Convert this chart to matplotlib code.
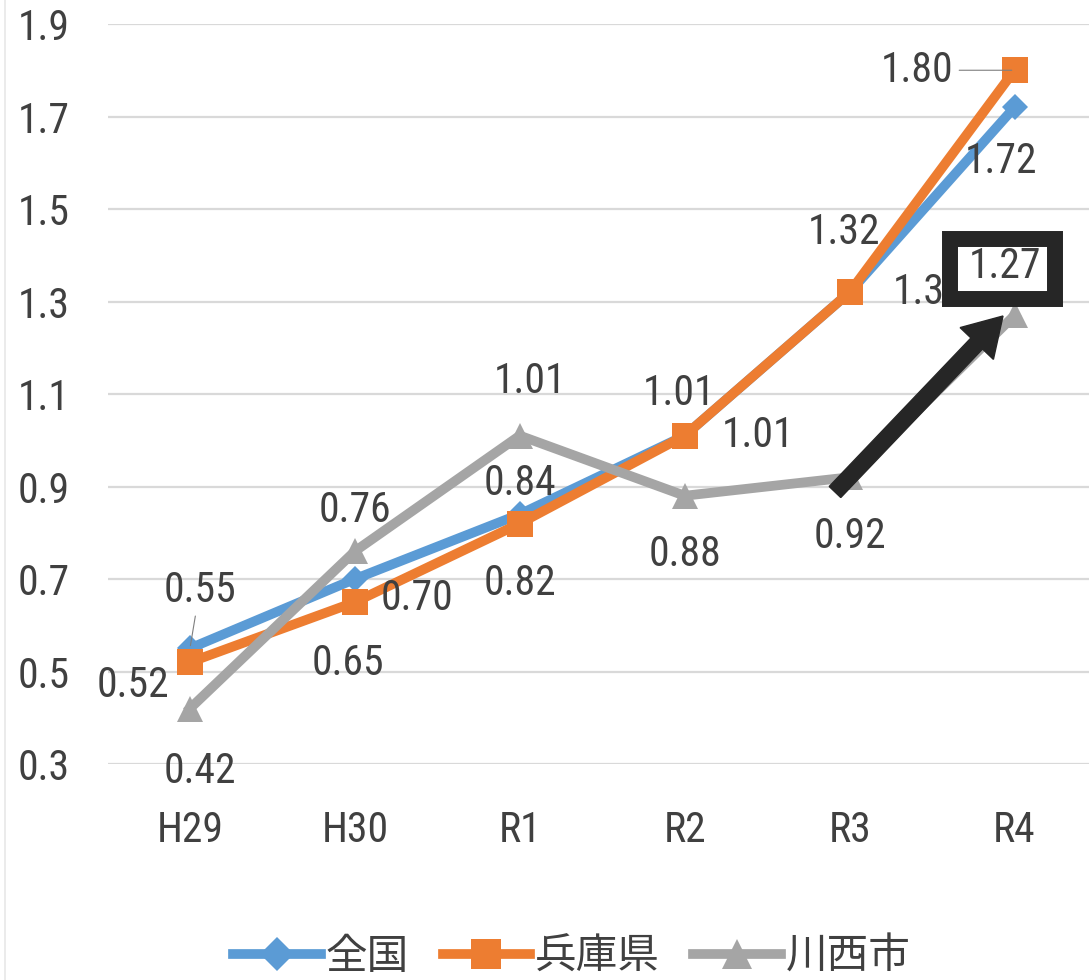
import matplotlib
matplotlib.use("Agg")
import matplotlib.pyplot as plt
from matplotlib.lines import Line2D
from matplotlib.patches import Rectangle, FancyArrow
from matplotlib.transforms import IdentityTransform
from matplotlib import font_manager
import numpy as np

# ---- data ----
categories = ["H29", "H30", "R1", "R2", "R3", "R4"]
series_names = ["全国", "兵庫県", "川西市"]
zenkoku = [0.55, 0.70, 0.84, 1.01, 1.32, 1.72]
hyogo = [0.52, 0.65, 0.82, 1.01, 1.32, 1.80]
kawanishi = [0.42, 0.76, 1.01, 0.88, 0.92, 1.27]
y_ticks = [0.3, 0.5, 0.7, 0.9, 1.1, 1.3, 1.5, 1.7, 1.9]

# ---- style ----
colors = ["#5B9BD5", "#ED7D31", "#A5A5A5"]
markers = ["D", "s", "^"]
marker_sizes = [13, 19, 19]
legend_marker_sizes = [17, 22, 21]
text_color = "#404040"

# pick a narrow face for the numbers when one is installed
installed = {f.name for f in font_manager.fontManager.ttflist}
narrow_candidates = ["Liberation Sans Narrow", "DejaVu Sans Condensed",
                     "Roboto Condensed", "Open Sans Condensed", "Roboto"]
num_face = next((n for n in narrow_candidates if n in installed), "DejaVu Sans")
num_font = [num_face, "DejaVu Sans"]
num_stretch = "condensed"
jp_font = ["Noto Sans CJK JP", "DejaVu Sans"]
num_size = 30

# data-label offsets (points) for each series / category
label_offsets = [
    [(7, 42), (45, -14), (0, 22), (53, 0), (57, 0), (-10, -39)],
    [(-41, -17), (-5, -44), (0, -43), (-4, 30), (-4, 43), (-70, 0)],
    [(7, -45), (0, 29), (7, 39), (0, -42), (0, -43), (-7, 35)],
]
leader = [
    [True, False, False, False, False, False],
    [False, False, False, False, False, True],
    [False, False, False, False, False, False],
]

W, H = 1089, 980
fig = plt.figure(figsize=(W / 100, H / 100), dpi=100)
fig.patch.set_facecolor("white")
ax = fig.add_axes([107.5 / W, 216 / H, 989.5 / W, 740 / H])
ax.set_facecolor("none")

x = np.arange(len(categories))
ax.set_xlim(-0.5, len(categories) - 0.5)
ax.set_ylim(0.3, 1.9)

ax.set_yticks(y_ticks)
ax.set_yticklabels([f"{v:.1f}" for v in y_ticks])
ax.set_xticks(x)
ax.set_xticklabels(categories)
for lab in ax.get_yticklabels() + ax.get_xticklabels():
    lab.set_fontfamily(num_font)
    lab.set_fontstretch(num_stretch)
    lab.set_fontsize(num_size)
    lab.set_color(text_color)
ax.tick_params(axis="y", length=0, pad=27)
ax.tick_params(axis="x", length=0, pad=33)
ax.grid(axis="y", color="#D9D9D9", linewidth=1.6, zorder=0)
ax.set_axisbelow(True)
for s in ax.spines.values():
    s.set_visible(False)

all_series = [zenkoku, hyogo, kawanishi]
for i, vals in enumerate(all_series):
    ax.plot(x, vals, color=colors[i], lw=7, marker=markers[i],
            markersize=marker_sizes[i], markeredgewidth=0,
            solid_joinstyle="miter", zorder=2 + i)

# data labels
for i, vals in enumerate(all_series):
    for j, v in enumerate(vals):
        dx, dy = label_offsets[i][j]
        props = None
        if leader[i][j]:
            props = dict(arrowstyle="-", color="#7F7F7F", lw=0.8,
                         shrinkA=2, shrinkB=2)
        z = 8 if i == 2 else 4
        ax.annotate(f"{v:.2f}", xy=(x[j], v), xytext=(dx, dy),
                    textcoords="offset points", ha="center", va="center",
                    fontsize=num_size, family=num_font,
                    fontstretch=num_stretch, color=text_color,
                    arrowprops=props, zorder=z, annotation_clip=False)

# highlight box around the R4 value of 川西市 and pointer arrow
box = Rectangle((950, H - 299), 105, 60, transform=IdentityTransform(),
                facecolor="white", edgecolor="#262626", linewidth=11.5,
                joinstyle="miter", zorder=6, clip_on=False)
ax.add_artist(box)
arrow = FancyArrow(835, H - 492, 168, 176, width=16, head_width=46,
                   head_length=38, length_includes_head=True,
                   transform=IdentityTransform(), color="#262626",
                   zorder=9, clip_on=False)
ax.add_artist(arrow)

# faint chart border on the left
fig.add_artist(Line2D([5 / W, 5 / W], [0, 1], transform=fig.transFigure,
                      color="#E8E8E8", lw=1.2))

# legend
handles = [Line2D([0], [0], color=colors[i], lw=7, marker=markers[i],
                  markersize=legend_marker_sizes[i], markeredgewidth=0)
           for i in range(3)]
leg = fig.legend(handles, series_names, loc="center",
                 bbox_to_anchor=(572 / W, 23 / H), ncol=3, frameon=False,
                 prop={"family": jp_font, "size": 30},
                 handlelength=2.1, handletextpad=0.12, columnspacing=0.8)
for t in leg.get_texts():
    t.set_color(text_color)

fig.savefig("out.png", dpi=100, facecolor="white")
